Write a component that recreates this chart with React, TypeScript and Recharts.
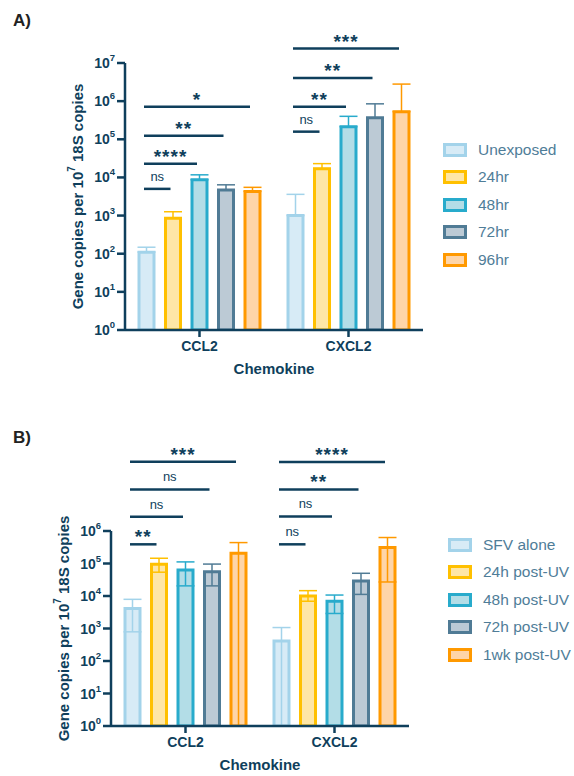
import React from 'react';
import { BarChart, Bar, XAxis, YAxis, ErrorBar, ReferenceLine } from 'recharts';

const GENES = ['CCL2', 'CXCL2'];

// Panel A: time after exposure
const A_GROUPS = ['Unexposed', '24hr', '48hr', '72hr', '96hr'];
const A_MEAN_CCL2 = [110, 850, 8700, 4700, 4300];
const A_UPPER_CCL2 = [148, 1260, 11700, 6400, 5500];
const A_MEAN_CXCL2 = [1000, 17000, 214000, 366000, 530000];
const A_UPPER_CXCL2 = [3600, 23000, 400000, 850000, 2800000];

// Panel B: UV inactivated virus
const B_GROUPS = ['SFV alone', '24h post-UV', '48h post-UV', '72h post-UV', '1wk post-UV'];
const B_MEAN_CCL2 = [4150, 95000, 63000, 56000, 205000];
const B_UPPER_CCL2 = [7900, 145000, 112000, 96000, 440000];
const B_LOWER_CCL2 = [790, 54000, 20500, 20500, 1];
const B_MEAN_CXCL2 = [415, 10000, 6900, 29000, 310000];
const B_UPPER_CXCL2 = [1070, 14600, 10700, 50000, 630000];
const B_LOWER_CXCL2 = [1, 6900, 2900, 11200, 27000];

const Y_TICKS_A = [1, 10, 100, 1e3, 1e4, 1e5, 1e6, 1e7];
const Y_TICKS_B = [1, 10, 100, 1e3, 1e4, 1e5, 1e6];

// significance brackets: [gene, last group, log10 height, label]
const SIG_A: [number, number, number, string][] = [
  [0, 1, 3.7, 'ns'], [0, 2, 4.36, '****'], [0, 3, 5.09, '**'], [0, 4, 5.85, '*'],
  [1, 1, 5.2, 'ns'], [1, 2, 5.85, '**'], [1, 3, 6.61, '**'], [1, 4, 7.38, '***'],
];
const SIG_B: [number, number, number, string][] = [
  [0, 1, 5.59, '**'], [0, 2, 6.44, 'ns'], [0, 3, 7.28, 'ns'], [0, 4, 8.13, '***'],
  [1, 1, 5.59, 'ns'], [1, 2, 6.45, 'ns'], [1, 3, 7.28, '**'], [1, 4, 8.12, '****'],
];

const FILLS = ['#d7ebf6', '#fee6a6', '#b3dde7', '#bccad5', '#fed5a8'];
const STROKES = ['#a3d3ea', '#ffc000', '#28abcc', '#507b95', '#ff9900'];
const NAVY = '#0f3f5c';
const LEGEND_TEXT = '#4f7d98';
const FONT = '"Liberation Sans", Arial, sans-serif';

const BAR_SIZE = 15;
const BAR_GAP = 11.5;

function buildRows(means: number[][], lowers: number[][], uppers: number[][]) {
  return GENES.map((gene, g) => {
    const row: any = { gene };
    means[g].forEach((v, i) => {
      row['v' + i] = v;
      row['e' + i] = [v - lowers[g][i], uppers[g][i] - v];
    });
    return row;
  });
}

const rowsA = buildRows(
  [A_MEAN_CCL2, A_MEAN_CXCL2],
  [A_MEAN_CCL2, A_MEAN_CXCL2],
  [A_UPPER_CCL2, A_UPPER_CXCL2],
);
const rowsB = buildRows(
  [B_MEAN_CCL2, B_MEAN_CXCL2],
  [B_LOWER_CCL2, B_LOWER_CXCL2],
  [B_UPPER_CCL2, B_UPPER_CXCL2],
);

function PowTick(props: any) {
  const { x, y, payload } = props;
  const exp = Math.round(Math.log10(payload.value));
  return (
    <text x={x} y={y + 5} textAnchor="end" fill={NAVY} fontSize={14} fontWeight="bold" fontFamily={FONT}>
      10<tspan dy={-7} fontSize={9.5}>{exp}</tspan>
    </text>
  );
}

interface PanelProps {
  tag: string;
  groups: string[];
  rows: any[];
  yTicks: number[];
  sig: [number, number, number, string][];
  height: number;
  margin: { top: number; right: number; bottom: number; left: number };
  yWidth: number;
  titleY: number;
  legendX: number;
  legendY: number;
}

function Panel({ tag, groups, rows, yTicks, sig, height, margin, yWidth, titleY, legendX, legendY }: PanelProps) {
  const width = 574;
  const plotW = width - margin.left - margin.right - yWidth;
  const band = plotW / GENES.length;
  const plotLeft = margin.left + yWidth;
  const plotTop = margin.top;
  const plotBottom = height - margin.bottom - 30;
  // fraction of plot width for a bar's centre (hidden 0..1 axis)
  const barCenter = (g: number, k: number) =>
    (g + 0.5 + ((k - 2) * (BAR_SIZE + BAR_GAP) - 2.5) / band) / GENES.length;

  return (
    <div style={{ position: 'relative', width, height }}>
      <BarChart width={width} height={height} data={rows} margin={margin} barSize={BAR_SIZE} barGap={BAR_GAP}>
        <XAxis
          dataKey="gene"
          height={30}
          tickSize={7}
          tickMargin={4}
          axisLine={{ stroke: NAVY, strokeWidth: 2.5 }}
          tickLine={{ stroke: NAVY, strokeWidth: 2.5 }}
          tick={{ fill: NAVY, fontSize: 14, fontWeight: 'bold', fontFamily: FONT }}
        />
        <XAxis xAxisId="sig" type="number" domain={[0, 1]} allowDataOverflow hide />
        <YAxis
          scale="log"
          type="number"
          domain={[yTicks[0], yTicks[yTicks.length - 1]]}
          ticks={yTicks}
          allowDataOverflow
          width={yWidth}
          tickSize={8}
          tickMargin={2}
          axisLine={{ stroke: NAVY, strokeWidth: 2.5 }}
          tickLine={{ stroke: NAVY, strokeWidth: 2.5 }}
          tick={<PowTick />}
          interval={0}
        />
        {groups.map((name, i) => (
          <Bar
            key={name}
            dataKey={'v' + i}
            name={name}
            fill={FILLS[i]}
            stroke={STROKES[i]}
            strokeWidth={3}
            isAnimationActive={false}
          >
            <ErrorBar dataKey={'e' + i} width={9} stroke={STROKES[i]} strokeWidth={1.5} direction="y" />
          </Bar>
        ))}
        {sig.map(([g, k, h, label], i) => {
          const stars = label !== 'ns';
          return (
            <ReferenceLine
              key={i}
              xAxisId="sig"
              ifOverflow="visible"
              segment={[
                { x: barCenter(g, 0), y: Math.pow(10, h) },
                { x: barCenter(g, k), y: Math.pow(10, h) },
              ]}
              stroke={NAVY}
              strokeWidth={2.5}
              label={{
                value: label,
                position: 'top',
                offset: stars ? 1 : 8,
                fill: NAVY,
                fontSize: stars ? 19 : 13,
                fontWeight: stars ? 'bold' : 'normal',
                fontFamily: FONT,
                letterSpacing: stars ? 1 : 0,
              }}
            />
          );
        })}
      </BarChart>
      <svg
        width={width}
        height={height}
        style={{ position: 'absolute', left: 0, top: 0, pointerEvents: 'none' }}
      >
        <text x={13} y={titleY} fill="#222" fontSize={17} fontWeight="bold" fontFamily={FONT}>
          {tag}
        </text>
        <text
          transform={`translate(${plotLeft - 48},${(plotTop + plotBottom) / 2}) rotate(-90)`}
          textAnchor="middle"
          dominantBaseline="central"
          fill={NAVY}
          fontSize={15}
          fontWeight="bold"
          fontFamily={FONT}
        >
          Gene copies per 10<tspan dy={-6} fontSize={10}>7</tspan>
          <tspan dy={6}> 18S copies</tspan>
        </text>
        <text
          x={plotLeft + plotW / 2}
          y={plotBottom + 44}
          textAnchor="middle"
          fill={NAVY}
          fontSize={15}
          fontWeight="bold"
          fontFamily={FONT}
        >
          Chemokine
        </text>
      </svg>
      <div style={{ position: 'absolute', left: legendX, top: legendY }}>
        {groups.map((name, i) => (
          <div key={name} style={{ display: 'flex', alignItems: 'center', height: 27.5 }}>
            <div
              style={{
                width: 24,
                height: 14,
                boxSizing: 'border-box',
                background: FILLS[i],
                border: `3px solid ${STROKES[i]}`,
                marginRight: 11,
              }}
            />
            <span style={{ fontFamily: FONT, fontSize: 15.5, color: LEGEND_TEXT, whiteSpace: 'nowrap' }}>
              {name}
            </span>
          </div>
        ))}
      </div>
    </div>
  );
}

export default function App() {
  return (
    <div style={{ position: 'absolute', left: 0, top: 0, width: 574, height: 776, background: '#fff' }}>
      <Panel
        tag="A)"
        groups={A_GROUPS}
        rows={rowsA}
        yTicks={Y_TICKS_A}
        sig={SIG_A}
        height={390}
        margin={{ top: 63, right: 151, bottom: 30, left: 0 }}
        yWidth={125}
        titleY={26}
        legendX={443}
        legendY={136}
      />
      <Panel
        tag="B)"
        groups={B_GROUPS}
        rows={rowsB}
        yTicks={Y_TICKS_B}
        sig={SIG_B}
        height={386}
        margin={{ top: 141, right: 165, bottom: 20, left: 0 }}
        yWidth={111}
        titleY={53}
        legendX={448}
        legendY={141}
      />
    </div>
  );
}
